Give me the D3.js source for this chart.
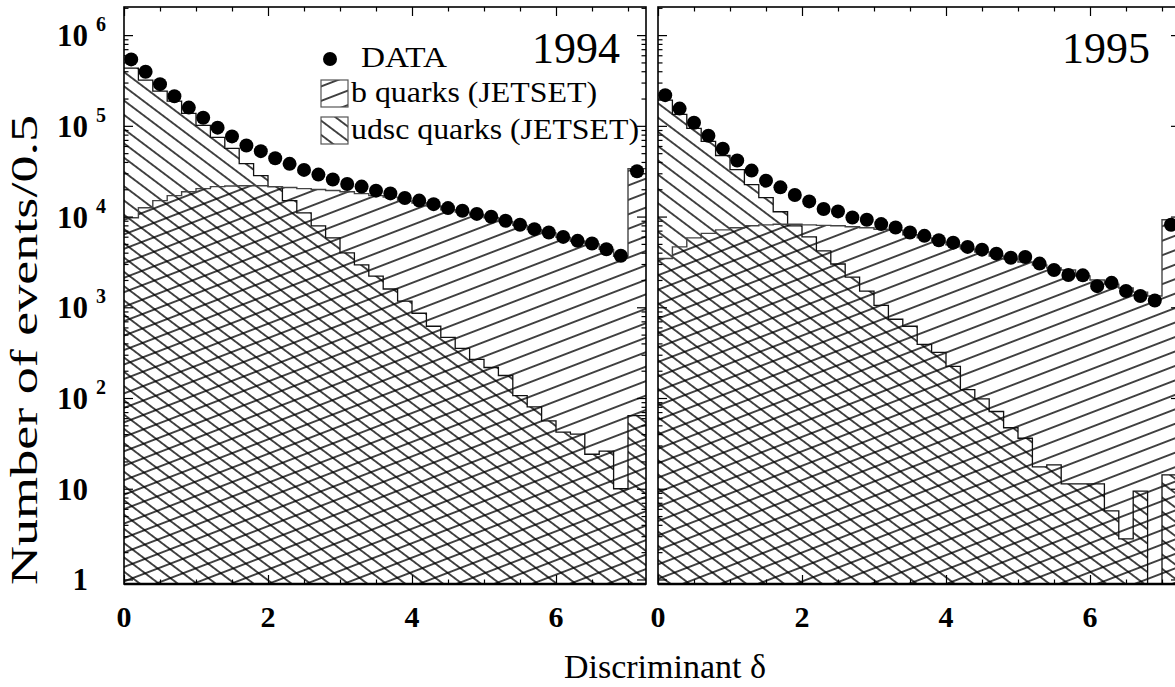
<!DOCTYPE html>
<html>
<head>
<meta charset="utf-8">
<script src="https://cdn.jsdelivr.net/npm/d3@7"></script>
<style>
  body { margin: 0; background: #fff; }
  text { font-family: "Liberation Serif", "Times New Roman", serif; fill: #000; }
</style>
</head>
<body>
<svg id="chart" width="1175" height="687"></svg>
<script>
// Bin edges of the discriminant histogram (0.2 wide, last one is the overflow bin)
const binEdges = [0, 0.2, 0.4, 0.6, 0.8, 1.0, 1.2, 1.4, 1.6, 1.8, 2.0, 2.2, 2.4, 2.6, 2.8,
  3.0, 3.2, 3.4, 3.6, 3.8, 4.0, 4.2, 4.4, 4.6, 4.8, 5.0, 5.2, 5.4, 5.6, 5.8, 6.0,
  6.2, 6.4, 6.6, 6.8, 7.0, 7.25];

// 1994 sample: events per bin
const data1994 = [5.4e5, 3.94e5, 2.88e5, 2.12e5, 1.59e5, 1.23e5, 9.55e4, 7.65e4, 6.08e4,
  5.26e4, 4.40e4, 3.81e4, 3.27e4, 2.90e4, 2.56e4, 2.29e4, 2.14e4, 1.93e4, 1.80e4, 1.60e4,
  1.50e4, 1.37e4, 1.24e4, 1.16e4, 1.07e4, 9.95e3, 8.98e3, 8.11e3, 7.27e3, 6.67e3, 5.97e3,
  5.40e3, 5.04e3, 4.37e3, 3.70e3, 3.16e4];
const bquark1994 = [9.7e3, 1.25e4, 1.50e4, 1.70e4, 1.88e4, 2.03e4, 2.14e4, 2.17e4, 2.19e4,
  2.19e4, 2.14e4, 2.09e4, 2.03e4, 1.99e4, 1.94e4, 1.88e4, 1.79e4, 1.70e4, 1.64e4, 1.48e4,
  1.41e4, 1.31e4, 1.19e4, 1.12e4, 1.04e4, 9.7e3, 8.8e3, 8.0e3, 7.2e3, 6.6e3, 5.9e3,
  5.35e3, 5.0e3, 4.35e3, 3.65e3, 3.38e4];
const udsc1994 = [4.33e5, 3.19e5, 2.41e5, 1.87e5, 1.37e5, 1.01e5, 7.46e4, 5.64e4, 3.84e4,
  2.83e4, 2.14e4, 1.50e4, 1.10e4, 7.91e3, 5.82e3, 3.97e3, 2.93e3, 2.21e3, 1.59e3, 1.17e3,
  860, 618, 467, 352, 266, 217, 177, 106, 80, 56, 42, 40, 24, 26, 10, 64];

// 1995 sample
const data1995 = [2.18e5, 1.55e5, 1.08e5, 7.79e4, 5.59e4, 4.15e4, 3.21e4, 2.49e4, 2.10e4,
  1.73e4, 1.47e4, 1.21e4, 1.14e4, 9.77e3, 9.22e3, 8.26e3, 7.57e3, 6.67e3, 6.13e3, 5.49e3,
  5.16e3, 4.63e3, 4.32e3, 3.90e3, 3.52e3, 3.59e3, 3.03e3, 2.58e3, 2.27e3, 2.25e3, 1.71e3,
  1.86e3, 1.51e3, 1.33e3, 1.19e3, 8.11e3];
const bquark1995 = [3.45e3, 4.63e3, 5.82e3, 6.53e3, 7.14e3, 7.52e3, 7.91e3, 8.11e3, 8.22e3,
  8.22e3, 8.11e3, 8.0e3, 7.91e3, 7.72e3, 7.52e3, 7.24e3, 7.08e3, 6.3e3, 5.82e3, 5.26e3,
  4.87e3, 4.40e3, 4.07e3, 3.68e3, 3.41e3, 3.16e3, 2.93e3, 2.71e3, 2.58e3, 2.21e3, 2.00e3,
  1.80e3, 1.63e3, 1.47e3, 1.33e3, 9.22e3];
const udsc1995 = [1.92e5, 1.34e5, 9.38e4, 6.73e4, 4.71e4, 3.30e4, 2.25e4, 1.62e4, 1.13e4,
  7.91e3, 5.97e3, 4.18e3, 3.00e3, 2.15e3, 1.51e3, 1.05e3, 738, 618, 390, 318, 223, 124,
  98, 71, 47, 36, 17.4, 18.3, 11.3, 11.3, 11.3, 5.7, 2.8, 9.4, 0.9, 14.2];

// Axis ticks
const xMajorTicks = [0, 2, 4, 6];
const xMinorTicks = [0.5, 1, 1.5, 2.5, 3, 3.5, 4.5, 5, 5.5, 6.5, 7];
const yMajorTicks = [1, 10, 1e2, 1e3, 1e4, 1e5, 1e6];
const yMinorTicks = [2, 3, 4, 5, 6, 7, 8, 9, 20, 30, 40, 50, 60, 70, 80, 90,
  200, 300, 400, 500, 600, 700, 800, 900, 2e3, 3e3, 4e3, 5e3, 6e3, 7e3, 8e3, 9e3,
  2e4, 3e4, 4e4, 5e4, 6e4, 7e4, 8e4, 9e4, 2e5, 3e5, 4e5, 5e5, 6e5, 7e5, 8e5, 9e5, 2e6];
const yLabelExponents = [null, null, 2, 3, 4, 5, 6];
const legendLabels = ["DATA", "b quarks (JETSET)", "udsc quarks (JETSET)"];

const svg = d3.select("#chart");
const defs = svg.append("defs");

const plotTop = 7, plotBottom = 584, plotWidth = 522;
const y = d3.scaleLog()
  .domain([Math.pow(10, -0.05), Math.pow(10, 6.31)])
  .range([plotBottom, plotTop])
  .clamp(true);

// single-line hatching patterns
function hatch(id, angle, spacing) {
  const p = defs.append("pattern")
    .attr("id", id)
    .attr("patternUnits", "userSpaceOnUse")
    .attr("width", 60).attr("height", spacing)
    .attr("patternTransform", `rotate(${angle})`);
  p.append("line")
    .attr("x1", 0).attr("x2", 60)
    .attr("y1", spacing / 2).attr("y2", spacing / 2)
    .attr("stroke", "#000").attr("stroke-width", 1.25);
}
hatch("hatch-b", -21, 13.5);
hatch("hatch-udsc", 37, 11.4);

const panels = [
  { year: "1994", left: 124, data: data1994, b: bquark1994, udsc: udsc1994, first: true },
  { year: "1995", left: 658, data: data1995, b: bquark1995, udsc: udsc1995, first: false }
];

panels.forEach((pn, pi) => {
  const x = d3.scaleLinear().domain([0, 7.25]).range([pn.left, pn.left + plotWidth]);
  const g = svg.append("g");

  const clipId = "clip" + pi;
  defs.append("clipPath").attr("id", clipId)
    .append("rect").attr("x", pn.left).attr("y", plotTop)
    .attr("width", plotWidth).attr("height", plotBottom - plotTop);

  const steps = vals => vals.map((v, i) => [binEdges[i], v])
    .concat([[binEdges[binEdges.length - 1], vals[vals.length - 1]]]);

  const area = d3.area().curve(d3.curveStepAfter)
    .x(d => x(d[0])).y0(plotBottom).y1(d => y(d[1]));
  const line = d3.line().curve(d3.curveStepAfter)
    .x(d => x(d[0])).y(d => y(d[1]));

  const hist = g.append("g").attr("clip-path", `url(#${clipId})`);
  hist.append("path").attr("d", area(steps(pn.b))).attr("fill", "url(#hatch-b)");
  hist.append("path").attr("d", area(steps(pn.udsc))).attr("fill", "url(#hatch-udsc)");
  hist.append("path").attr("d", line(steps(pn.udsc)))
    .attr("fill", "none").attr("stroke", "#111").attr("stroke-width", 1.3);
  hist.append("path").attr("d", line(steps(pn.b)))
    .attr("fill", "none").attr("stroke", "#444").attr("stroke-width", 1.4);

  // data points at bin centres
  hist.selectAll("circle.data").data(pn.data).join("circle")
    .attr("class", "data")
    .attr("cx", (d, i) => x((binEdges[i] + binEdges[i + 1]) / 2))
    .attr("cy", d => y(d))
    .attr("r", 7)
    .attr("fill", "#000");

  // ticks on all four sides, pointing inward
  const axes = g.append("g");
  function addAxis(axisFn, scale, values, size, transform) {
    const a = axes.append("g").attr("transform", transform)
      .call(axisFn(scale).tickValues(values).tickSize(size).tickFormat(""));
    a.select(".domain").remove();
    a.selectAll(".tick line").attr("stroke", "#000").attr("stroke-width", 1.2);
  }
  addAxis(d3.axisLeft, y, yMajorTicks, -9, `translate(${pn.left},0)`);
  addAxis(d3.axisLeft, y, yMinorTicks, -4.5, `translate(${pn.left},0)`);
  addAxis(d3.axisRight, y, yMajorTicks, -9, `translate(${pn.left + plotWidth},0)`);
  addAxis(d3.axisRight, y, yMinorTicks, -4.5, `translate(${pn.left + plotWidth},0)`);
  addAxis(d3.axisTop, x, xMajorTicks, -9, `translate(0,${plotTop})`);
  addAxis(d3.axisTop, x, xMinorTicks, -4.5, `translate(0,${plotTop})`);
  addAxis(d3.axisBottom, x, xMajorTicks, -9, `translate(0,${plotBottom})`);
  addAxis(d3.axisBottom, x, xMinorTicks, -4.5, `translate(0,${plotBottom})`);

  // frame
  g.append("rect").attr("x", pn.left).attr("y", plotTop)
    .attr("width", plotWidth).attr("height", plotBottom - plotTop)
    .attr("fill", "none").attr("stroke", "#000").attr("stroke-width", 1.6);
  g.append("line").attr("x1", pn.left).attr("x2", pn.left + plotWidth)
    .attr("y1", plotBottom).attr("y2", plotBottom)
    .attr("stroke", "#000").attr("stroke-width", 2.4);

  // x tick labels
  g.selectAll("text.xl").data(xMajorTicks).join("text")
    .attr("class", "xl")
    .attr("x", d => x(d)).attr("y", 627)
    .attr("text-anchor", "middle")
    .attr("font-size", 30).attr("font-weight", "bold")
    .text(d => d);

  // year
  g.append("text").attr("x", pn.first ? 620 : 1150).attr("y", 63)
    .attr("text-anchor", "end").attr("font-size", 44).text(pn.year);

  if (pn.first) {
    // y tick labels: 1, 10, 10^2 ... 10^6
    yMajorTicks.forEach((t, i) => {
      const ty = y(t);
      g.append("text").attr("x", 88).attr("y", ty + 11)
        .attr("text-anchor", "end").attr("font-size", 31).attr("font-weight", "bold")
        .text(t === 1 ? "1" : "10");
      if (yLabelExponents[i] !== null) {
        g.append("text").attr("x", 96).attr("y", ty - 4)
          .attr("font-size", 20).attr("font-weight", "bold")
          .text(yLabelExponents[i]);
      }
    });

    // legend
    const lg = g.append("g");
    lg.append("circle").attr("cx", 330).attr("cy", 59).attr("r", 7).attr("fill", "#000");
    lg.append("text").attr("x", 361).attr("y", 67).attr("font-size", 30)
      .attr("textLength", 86).attr("lengthAdjust", "spacingAndGlyphs")
      .text(legendLabels[0]);
    [["url(#hatch-b)", 80, 246], ["url(#hatch-udsc)", 117, 288]].forEach(([fill, by, len], k) => {
      lg.append("rect").attr("x", 321).attr("y", by).attr("width", 27).attr("height", 27)
        .attr("fill", fill).attr("stroke", "#555").attr("stroke-width", 1.2);
      lg.append("text").attr("x", 351).attr("y", by + 22).attr("font-size", 30)
        .attr("textLength", len).attr("lengthAdjust", "spacingAndGlyphs")
        .text(legendLabels[k + 1]);
    });
  }
});

// axis titles
svg.append("text").attr("x", 665).attr("y", 678).attr("text-anchor", "middle")
  .attr("font-size", 34).text("Discriminant \u03b4");
svg.append("text").attr("transform", "translate(37,350) rotate(-90)")
  .attr("text-anchor", "middle").attr("font-size", 37)
  .attr("textLength", 470).attr("lengthAdjust", "spacingAndGlyphs")
  .text("Number of events/0.5");
</script>
</body>
</html>
